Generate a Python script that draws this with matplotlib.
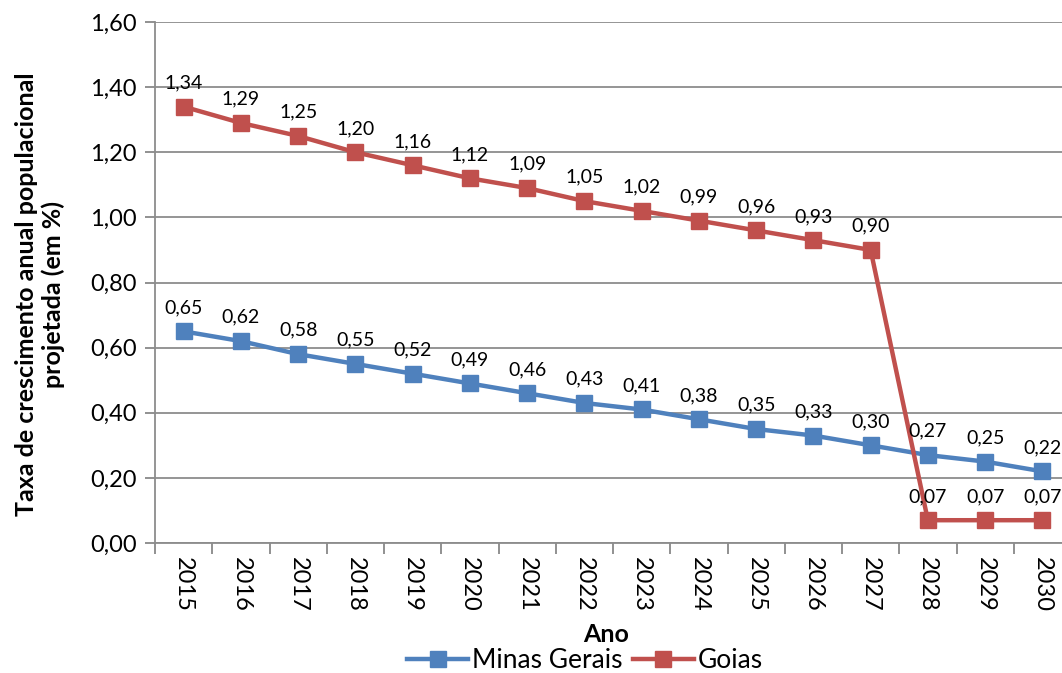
import matplotlib.pyplot as plt
from matplotlib.lines import Line2D

plt.rcParams['font.family'] = ['Lato', 'DejaVu Sans']

anos = ['2015', '2016', '2017', '2018', '2019', '2020', '2021', '2022',
        '2023', '2024', '2025', '2026', '2027', '2028', '2029', '2030']
minas = [0.65, 0.62, 0.58, 0.55, 0.52, 0.49, 0.46, 0.43,
         0.41, 0.38, 0.35, 0.33, 0.30, 0.27, 0.25, 0.22]
goias = [1.34, 1.29, 1.25, 1.20, 1.16, 1.12, 1.09, 1.05,
         1.02, 0.99, 0.96, 0.93, 0.90, 0.07, 0.07, 0.07]
yticks = [0.0, 0.2, 0.4, 0.6, 0.8, 1.0, 1.2, 1.4, 1.6]

azul = '#4F81BD'
verm = '#C0504D'

def fmt(v):
    return '{:.2f}'.format(v).replace('.', ',')

fig = plt.figure(figsize=(10.62, 6.73), dpi=100)
ax = fig.add_axes([155/1062, 130/673, 916/1062, 521/673])

x = list(range(len(anos)))
ax.plot(x, minas, color=azul, lw=3.2, marker='s', ms=11, zorder=3)
ax.plot(x, goias, color=verm, lw=3.2, marker='s', ms=11, zorder=3)

for xi, v in zip(x, minas):
    ax.annotate(fmt(v), (xi, v), xytext=(0, 11), textcoords='offset points',
                ha='center', va='bottom', fontsize=14)
for xi, v in zip(x, goias):
    ax.annotate(fmt(v), (xi, v), xytext=(0, 11), textcoords='offset points',
                ha='center', va='bottom', fontsize=14)

ax.set_xlim(-0.5, len(anos) - 0.5)
ax.set_ylim(0, 1.6)
ax.set_yticks(yticks)
ax.set_yticklabels([fmt(v) for v in yticks], fontsize=17)
ax.set_xticks(x)
ax.set_xticklabels(anos, rotation=-90, fontsize=17)
ax.set_xticks([k - 0.5 for k in range(len(anos) + 1)], minor=True)
ax.tick_params(axis='x', which='major', length=0, pad=10)
ax.tick_params(axis='x', which='minor', length=8, color='#888888', width=1.3)
ax.tick_params(axis='y', length=7, color='#888888', width=1.3, pad=6)

ax.grid(axis='y', color='#8c8c8c', lw=1.3)
ax.set_axisbelow(True)
for s in ['top', 'right']:
    ax.spines[s].set_visible(False)
for s in ['left', 'bottom']:
    ax.spines[s].set_color('#8c8c8c')
    ax.spines[s].set_linewidth(1.3)

fig.text(40/1062, 1 - 294/673, 'Taxa de crescimento anual populacional\nprojetada (em %)',
         rotation=90, ha='center', va='center', fontsize=18, fontweight='bold',
         linespacing=1.15)
fig.text(606/1062, 1 - 634/673, 'Ano', ha='center', va='center',
         fontsize=18, fontweight='bold')

handles = [Line2D([], [], color=azul, lw=3.2, marker='s', ms=11),
           Line2D([], [], color=verm, lw=3.2, marker='s', ms=11)]
fig.legend(handles, ['Minas Gerais', 'Goias'], loc='center',
           bbox_to_anchor=(585/1062, 1 - 661/673), ncol=2, frameon=False,
           fontsize=19, handlelength=2.3, columnspacing=0.4, handletextpad=0.15,
           borderpad=0)

fig.savefig('out.png', dpi=100)
